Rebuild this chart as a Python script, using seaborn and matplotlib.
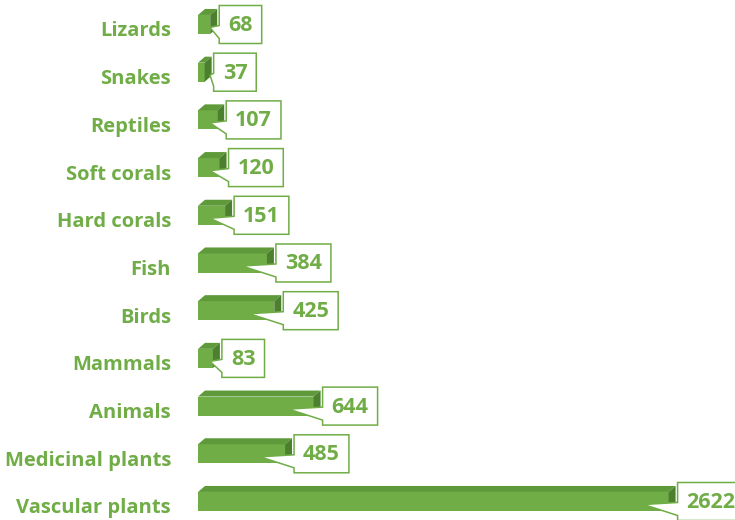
import matplotlib
matplotlib.use("Agg")
import matplotlib.pyplot as plt
import seaborn as sns
import pandas as pd
from matplotlib.patches import Polygon
from matplotlib.transforms import IdentityTransform, blended_transform_factory, ScaledTranslation

categories = ["Lizards", "Snakes", "Reptiles", "Soft corals", "Hard corals", "Fish",
              "Birds", "Mammals", "Animals", "Medicinal plants", "Vascular plants"]
values = [68, 37, 107, 120, 151, 384, 425, 83, 644, 485, 2622]

GREEN = "#70AD47"
TOP = "#5E9A3A"
SIDE = "#4C7F2E"

sns.set_theme(style="white")
plt.rcParams['font.family'] = ['Open Sans', 'DejaVu Sans']

W, H = 735, 520
fig = plt.figure(figsize=(W / 100, H / 100), dpi=100)
ax = fig.add_axes([198 / W, 0, 537 / W, 1])
df = pd.DataFrame({"category": categories, "value": values})
sns.barplot(data=df, x="value", y="category", order=categories, orient="h",
            color=GREEN, saturation=1, width=0.4, ax=ax, edgecolor="none", linewidth=0)
ax.set_xlim(0, 2992)
ax.set_ylim(10.388, -0.5136)
for s in ax.spines.values():
    s.set_visible(False)
ax.set_xticks([])
ax.set_yticks([])
ax.set_xlabel("")
ax.set_ylabel("")
ax.patch.set_alpha(0)

# category labels
lab_tr = blended_transform_factory(ax.transAxes, ax.transData) + \
    ScaledTranslation(-27 / 100, -7 / 100, fig.dpi_scale_trans)
for i, c in enumerate(categories):
    ax.text(0, i, c, transform=lab_tr, ha="right", va="center", color=GREEN,
            fontsize=14.5, fontweight="bold")

renderer = fig.canvas.get_renderer()
ident = IdentityTransform()
dx, dy = 7, 6
for p, v in zip(ax.patches, values):
    x0, y0 = p.get_x(), p.get_y()
    x1, y1 = x0 + p.get_width(), y0 + p.get_height()
    (ax0, ay0), (ax1, ay1) = ax.transData.transform([(x0, y0), (x1, y1)])
    xl, xr = min(ax0, ax1), max(ax0, ax1)
    yb, yt = min(ay0, ay1), max(ay0, ay1)
    top = Polygon([(xl, yt), (xr, yt), (xr + dx, yt + dy), (xl + dx, yt + dy)],
                  closed=True, facecolor=TOP, edgecolor="none", transform=ident, zorder=3)
    side = Polygon([(xr, yb), (xr, yt), (xr + dx, yt + dy), (xr + dx, yb + dy)],
                   closed=True, facecolor=SIDE, edgecolor="none", transform=ident, zorder=3)
    fig.add_artist(top)
    fig.add_artist(side)

    yc = (yb + yt) / 2
    L = xr + dx + 2
    pad = 9
    t = fig.text(L + pad, yc - 1, f"{v}", transform=ident, ha="left", va="center",
                 color=GREEN, fontsize=15.5, fontweight="bold", zorder=6)
    tw = t.get_window_extent(renderer).width
    R = L + tw + 2 * pad
    T, B = yc + 19, yc - 19
    tipx = max(L - 34, xl + 12)
    shape = [(L, T), (R, T), (R, B), (L, B), (L, yc - 14), (tipx, yc - 3), (L, yc - 1)]
    box = Polygon(shape, closed=True, facecolor="white", edgecolor=GREEN,
                  linewidth=1.1, transform=ident, zorder=5, joinstyle="miter")
    fig.add_artist(box)

fig.savefig("out.png", dpi=100)
